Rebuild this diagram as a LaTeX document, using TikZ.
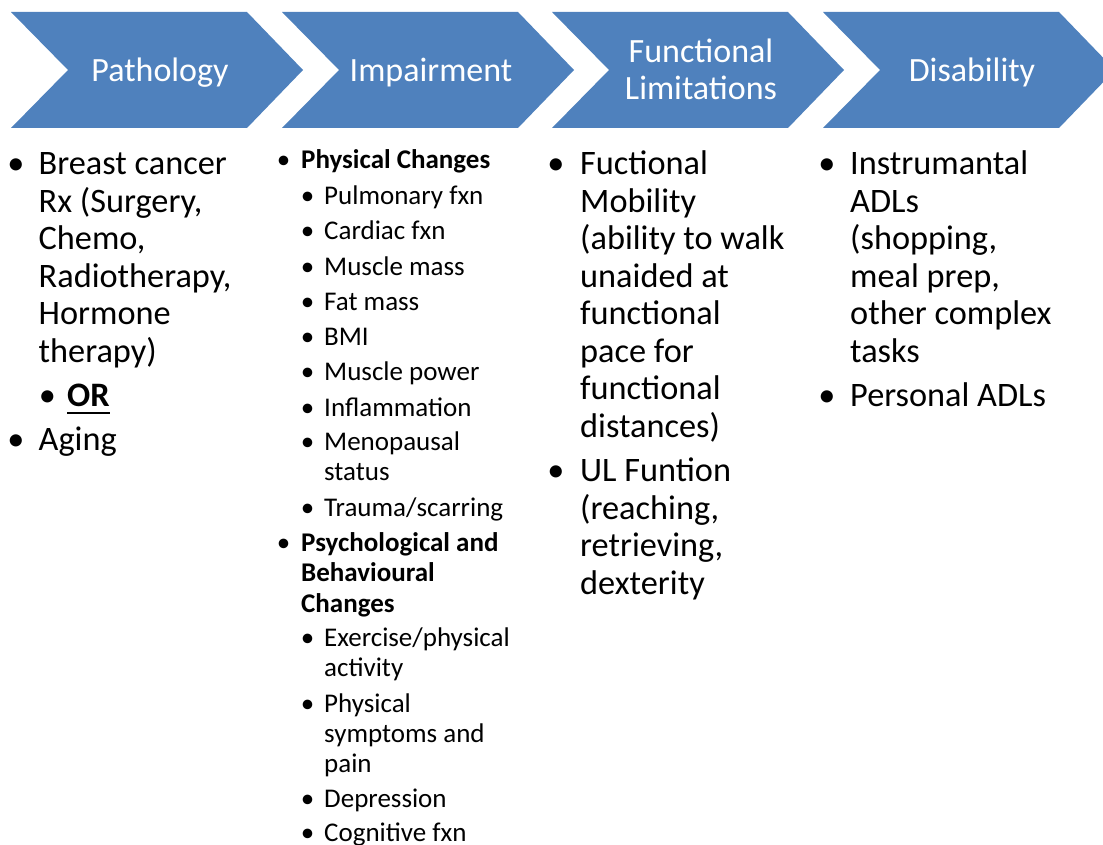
\documentclass[tikz,border=0pt]{standalone}
\usepackage{fontspec}
\setmainfont{Carlito}
\definecolor{chev}{HTML}{4F81BD}
\newcommand\HeadFnt{\fontsize{34}{40}\selectfont}
\newcommand\BodyFnt{\fontsize{34.3}{38}\selectfont}
\newcommand\SmallFnt{\fontsize{27}{30}\selectfont}
\begin{document}
\begin{tikzpicture}[x=1pt,y=-1pt,
 chevron/.style={fill=chev, draw=none},
 head/.style={text=white, font=\HeadFnt, inner sep=0, anchor=base},
 txt/.style={font=\BodyFnt, inner sep=0, anchor=base west},
 bul/.style={font=\BodyFnt, inner sep=0, anchor=base},
 stxt/.style={font=\SmallFnt, inner sep=0, anchor=base west},
 sbul/.style={font=\SmallFnt, inner sep=0, anchor=base}]
\useasboundingbox (0,0) rectangle (1103,845);
% chevrons
\foreach \x in {11,282,552,823}{
  \fill[chevron] (\x,12) -- ++(236,0) -- ++(56,58) -- ++(-56,58) -- ++(-236,0) -- ++(57,-58) -- cycle;}
\node[head] (h1) at (160,82) {Pathology};
\node[head] (h2) at (431,82) {Impairment};
\node[head] (h3a) at (701,63) {Functional};
\node[head] (h3b) at (701,100) {Limitations};
\node[head] (h4) at (972,82) {Disability};
% column 1
\node[bul] (b11) at (16,174.7) {•};
\node[txt] (c1l1) at (38.5,174.7) {Breast cancer};
\node[txt] (c1l2) at (38.5,212.2) {Rx (Surgery,};
\node[txt] (c1l3) at (38.5,249.7) {Chemo,};
\node[txt] (c1l4) at (38.5,287.2) {Radiotherapy,};
\node[txt] (c1l5) at (38.5,324.7) {Hormone};
\node[txt] (c1l6) at (38.5,362.2) {therapy)};
\node[bul] (b12) at (47.5,406) {•};
\node[txt,font=\BodyFnt\bfseries] (OR) at (67,406) {OR};
\draw[line width=2.2pt] ([yshift=-7pt]OR.base west) -- ([yshift=-7pt]OR.base east);
\node[bul] (b13) at (16,450.5) {•};
\node[txt] (c1l8) at (38.5,450.5) {Aging};
% column 2
\node[sbul] (b21) at (283.5,169) {•};
\node[stxt,font=\SmallFnt\bfseries] (c2h1) at (301,169) {Physical Changes};
\foreach \y/\t/\n in {204.5/Pulmonary fxn/1, 239.5/Cardiac fxn/2, 275/Muscle mass/3, 310.5/Fat mass/4, 345.5/BMI/5, 380.5/Muscle power/6, 416/Inflammation/7, 450.5/Menopausal/8, 516/Trauma\slash scarring/9}{
  \node[sbul] (sb\n) at (307.5,\y) {•};
  \node[stxt] (s\n) at (324,\y) {\t};}
\node[stxt] (s8b) at (324,480.5) {status};
\node[sbul] (b22) at (283.5,551.5) {•};
\node[stxt,font=\SmallFnt\bfseries] (c2h2a) at (301,551.5) {Psychological and};
\node[stxt,font=\SmallFnt\bfseries] (c2h2b) at (301,581.5) {Behavioural};
\node[stxt,font=\SmallFnt\bfseries] (c2h2c) at (301,612) {Changes};
\node[sbul] (tb1) at (307.5,646.5) {•};
\node[stxt] (t1a) at (324,646.5) {Exercise/physical};
\node[stxt] (t1b) at (324,676.5) {activity};
\node[sbul] (tb2) at (307.5,712.5) {•};
\node[stxt] (t2a) at (324,712.5) {Physical};
\node[stxt] (t2b) at (324,742.5) {symptoms and};
\node[stxt] (t2c) at (324,772.5) {pain};
\node[sbul] (tb3) at (307.5,807.5) {•};
\node[stxt] (t3) at (324,807.5) {Depression};
\node[sbul] (tb4) at (307.5,841.5) {•};
\node[stxt] (t4) at (324,841.5) {Cognitive fxn};
% column 3
\node[bul] (b31) at (556,174.7) {•};
\node[txt] (c3l1) at (580,174.7) {Fuctional};
\node[txt] (c3l2) at (580,212.2) {Mobility};
\node[txt] (c3l3) at (580,249.7) {(ability to walk};
\node[txt] (c3l4) at (580,287.2) {unaided at};
\node[txt] (c3l5) at (580,324.7) {functional};
\node[txt] (c3l6) at (580,362.2) {pace for};
\node[txt] (c3l7) at (580,399.7) {functional};
\node[txt] (c3l8) at (580,437.2) {distances)};
\node[bul] (b32) at (556,481.7) {•};
\node[txt] (c3l9) at (580,481.7) {UL Funtion};
\node[txt] (c3l10) at (580,519.2) {(reaching,};
\node[txt] (c3l11) at (580,556.7) {retrieving,};
\node[txt] (c3l12) at (580,594.2) {dexterity};
% column 4
\node[bul] (b41) at (827,174.7) {•};
\node[txt] (c4l1) at (850,174.7) {Instrumantal};
\node[txt] (c4l2) at (850,212.2) {ADLs};
\node[txt] (c4l3) at (850,249.7) {(shopping,};
\node[txt] (c4l4) at (850,287.2) {meal prep,};
\node[txt] (c4l5) at (850,324.7) {other complex};
\node[txt] (c4l6) at (850,362.2) {tasks};
\node[bul] (b42) at (827,406.7) {•};
\node[txt] (c4l7) at (850,406.7) {Personal ADLs};
\end{tikzpicture}
\end{document}
